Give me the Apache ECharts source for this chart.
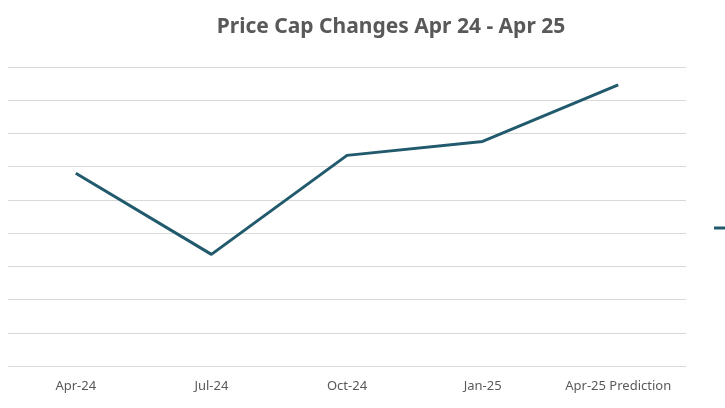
<!DOCTYPE html>
<html>
<head>
<meta charset="utf-8">
<script src="https://cdn.jsdelivr.net/npm/echarts@6/dist/echarts.min.js"></script>
<style>html,body{margin:0;padding:0;background:#fff}#main{width:725px;height:408px}</style>
</head>
<body>
<div id="main"></div>
<script>
// categories and values
const months = ['Apr-24', 'Jul-24', 'Oct-24', 'Jan-25', 'Apr-25 Prediction'];
const priceCap = [1690, 1568, 1717, 1738, 1823];
// label above or below each point
const labelPos = ['top', 'bottom', 'top', 'bottom', 'top'];

const chart = echarts.init(document.getElementById('main'));

let pointData = priceCap.map((v, i) => ({
  value: v,
  label: { position: labelPos[i] }
}));

chart.setOption({
  backgroundColor: '#ffffff',
  title: {
    text: 'Price Cap Changes Apr 24 - Apr 25',
    left: 386,
    textAlign: 'center',
    top: 12,
    textStyle: { fontFamily: 'Noto Sans', fontSize: 21, fontWeight: 'bold', color: '#595959' }
  },
  grid: { left: 8, right: 39, top: 67, bottom: 42 },
  xAxis: {
    type: 'category',
    data: months,
    boundaryGap: true,
    axisLine: { show: false },
    axisTick: { show: false },
    axisLabel: { interval: 0, color: '#595959', fontSize: 13, fontFamily: 'Noto Sans', margin: 14 }
  },
  yAxis: {
    type: 'value',
    min: 1400,
    max: 1850,
    interval: 50,
    axisLabel: { show: false },
    splitLine: { lineStyle: { color: '#d9d9d9' } }
  },
  series: [{
    type: 'line',
    data: pointData,
    symbol: 'circle',
    symbolSize: 1,
    itemStyle: { color: '#215A6D', opacity: 0 },
    lineStyle: { color: '#215A6D', width: 3 },
    label: {
      show: true,
      distance: 9,
      formatter: p => '£' + p.value.toLocaleString('en-GB'),
      fontFamily: 'Noto Sans',
      fontWeight: 'bold',
      fontSize: 14,
      color: '#404040'
    }
  }],
  graphic: [{
    type: 'line',
    shape: { x1: 714, y1: 228, x2: 725, y2: 228 },
    style: { stroke: '#215A6D', lineWidth: 3 }
  }]
});
</script>
</body>
</html>
